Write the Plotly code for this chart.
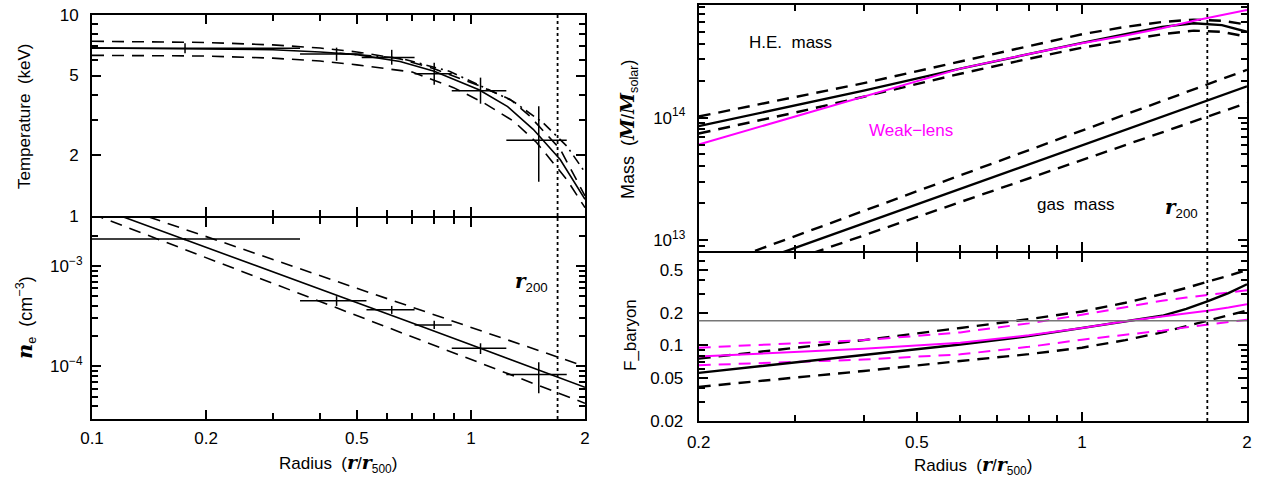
import plotly.graph_objects as go

W, H = 1265, 483

# ---------------- data ----------------
# Temperature data points (radius in r/r500)
T_r = [0.176, 0.442, 0.618, 0.80, 1.06, 1.51]
T_r_lo = [0.10, 0.354, 0.515, 0.71, 0.89, 1.24]
T_r_hi = [0.354, 0.515, 0.71, 0.89, 1.24, 1.79]
T_val = [6.84, 6.40, 6.15, 5.10, 4.20, 2.38]
T_lo = [6.46, 5.92, 5.66, 4.50, 3.62, 1.48]
T_hi = [7.24, 6.88, 6.71, 5.79, 4.88, 3.52]

# Temperature model curves
rT_best = [0.1, 0.2, 0.3, 0.4, 0.5, 0.65, 0.8, 1.05, 1.25, 1.46, 1.72, 2.0]
T_best = [6.86, 6.80, 6.72, 6.55, 6.35, 5.87, 5.25, 4.25, 3.50, 2.70, 1.91, 1.21]
rT_up = [0.1, 0.2, 0.3, 0.4, 0.5, 0.65, 0.8, 1.05, 1.27, 1.43, 1.72, 2.0]
T_up = [7.40, 7.30, 7.10, 6.85, 6.55, 6.05, 5.40, 4.45, 3.80, 3.14, 2.15, 1.26]
rT_dn = [0.1, 0.2, 0.3, 0.4, 0.5, 0.7, 0.9, 1.08, 1.3, 1.49, 1.79, 2.0]
T_dn = [6.30, 6.25, 6.10, 5.90, 5.65, 5.20, 4.35, 3.66, 2.95, 2.32, 1.52, 1.10]
rT_alt = [0.45, 0.65, 0.88, 1.12, 1.29, 1.55, 1.79, 2.0]
T_alt = [6.45, 6.10, 5.24, 4.25, 3.73, 2.91, 2.23, 1.65]

# Electron density data points
ne_r = [0.176, 0.442, 0.618, 0.80, 1.06, 1.51]
ne_r_lo = [0.10, 0.354, 0.53, 0.71, 0.89, 1.24]
ne_r_hi = [0.354, 0.53, 0.71, 0.89, 1.24, 1.79]
ne_val = [1.85e-3, 4.5e-4, 3.66e-4, 2.59e-4, 1.52e-4, 8.3e-5]
ne_lo = [1.80e-3, 4.0e-4, 3.33e-4, 2.36e-4, 1.33e-4, 5.4e-5]
ne_hi = [1.90e-3, 5.0e-4, 4.0e-4, 2.85e-4, 1.70e-4, 1.1e-4]

# Electron density model
r_ne = [0.1, 0.2, 0.3, 0.5, 0.7, 1.0, 1.5, 2.0]
ne_best = [4.0e-3, 1.54e-3, 8.7e-4, 4.3e-4, 2.7e-4, 1.64e-4, 9.3e-5, 6.2e-5]
ne_up = [4.8e-3, 1.96e-3, 1.16e-3, 6.0e-4, 3.9e-4, 2.45e-4, 1.45e-4, 1.0e-4]
ne_dn = [3.3e-3, 1.21e-3, 6.7e-4, 3.2e-4, 1.97e-4, 1.17e-4, 6.5e-5, 4.3e-5]

# Mass profiles
r_m = [0.2, 0.3, 0.4, 0.6, 0.8, 1.0, 1.2, 1.4, 1.6, 1.8, 2.0]
M_he = [8.51e13, 1.259e14, 1.66e14, 2.51e14, 3.31e14, 4.07e14, 4.79e14, 5.50e14, 5.89e14, 5.69e14, 5.01e14]
M_he_up = [1.02e14, 1.48e14, 1.91e14, 2.87e14, 3.80e14, 4.79e14, 5.50e14, 6.03e14, 6.31e14, 6.17e14, 5.75e14]
M_he_dn = [7.41e13, 1.10e14, 1.48e14, 2.28e14, 3.02e14, 3.72e14, 4.27e14, 4.79e14, 5.13e14, 5.01e14, 4.57e14]
M_wl = [6.03e13, 1.02e14, 1.48e14, 2.51e14, 3.31e14, 4.05e14, 4.68e14, 5.37e14, 6.17e14, 6.84e14, 7.55e14]

r_gas = [0.2, 0.5, 1.0, 1.5, 2.0]
M_gas = [4.52e12, 1.96e13, 5.93e13, 1.135e14, 1.80e14]
M_gas_up = [5.53e12, 2.50e13, 7.83e13, 1.528e14, 2.455e14]
M_gas_dn = [3.74e12, 1.54e13, 4.50e13, 8.41e13, 1.315e14]

# Baryon fraction
r_fb = [0.2, 0.4, 0.6, 0.8, 1.0, 1.2, 1.4, 1.55, 1.693, 1.85, 2.0]
fb_he = [0.0557, 0.082, 0.102, 0.122, 0.145, 0.165, 0.188, 0.218, 0.255, 0.305, 0.368]
fb_he_up = [0.0755, 0.112, 0.145, 0.175, 0.206, 0.248, 0.298, 0.34, 0.389, 0.44, 0.50]
fb_he_dn = [0.0414, 0.058, 0.0718, 0.083, 0.0953, 0.112, 0.132, 0.15, 0.169, 0.19, 0.21]
fb_wl = [0.0792, 0.093, 0.106, 0.124, 0.145, 0.167, 0.185, 0.197, 0.209, 0.224, 0.241]
fb_wl_up = [0.0953, 0.112, 0.132, 0.16, 0.192, 0.225, 0.259, 0.277, 0.294, 0.31, 0.324]
fb_wl_dn = [0.0656, 0.074, 0.0827, 0.097, 0.113, 0.125, 0.137, 0.147, 0.156, 0.165, 0.173]

f_cosmic = 0.169
r200 = 1.693

# tick labels
xL_ticks = [0.1, 0.2, 0.5, 1, 2]
xL_text = ["0.1", "0.2", "0.5", "1", "2"]
xR_ticks = [0.2, 0.5, 1, 2]
xR_text = ["0.2", "0.5", "1", "2"]
T_ticks = [1, 2, 5, 10]
T_text = ["1", "2", "5", "10"]
ne_ticks = [1e-4, 1e-3]
ne_text = ["10<sup>\u22124</sup>", "10<sup>\u22123</sup>"]
M_ticks = [1e13, 1e14]
M_text = ["10<sup>13</sup>", "10<sup>14</sup>"]
fb_ticks = [0.02, 0.05, 0.1, 0.2, 0.5]
fb_text = ["0.02", "0.05", "0.1", "0.2", "0.5"]

# ---------------- figure ----------------
BLACK = "black"
MAG = "#ff00ff"
DASH = "12px,8px"
DASHDOT = "10px,5px,2px,5px"
FONT = "Liberation Sans"
ITAL = "font-family:'DejaVu Serif';font-style:italic;font-weight:bold"

fig = go.Figure()


def line(x, y, xa, ya, color=BLACK, dash="solid", width=1.6):
    fig.add_trace(go.Scatter(x=x, y=y, xaxis=xa, yaxis=ya, mode="lines",
                             line=dict(color=color, dash=dash, width=width),
                             showlegend=False, hoverinfo="skip"))


def points(x, xlo, xhi, y, ylo, yhi, xa, ya):
    fig.add_trace(go.Scatter(
        x=x, y=y, xaxis=xa, yaxis=ya, mode="markers",
        marker=dict(size=1, color=BLACK),
        error_x=dict(type="data", symmetric=False,
                     array=[b - a for a, b in zip(x, xhi)],
                     arrayminus=[a - b for a, b in zip(x, xlo)],
                     width=0, thickness=1.5, color=BLACK),
        error_y=dict(type="data", symmetric=False,
                     array=[b - a for a, b in zip(y, yhi)],
                     arrayminus=[a - b for a, b in zip(y, ylo)],
                     width=0, thickness=1.5, color=BLACK),
        showlegend=False, hoverinfo="skip"))


# Temperature panel
line(rT_best, T_best, "x", "y")
line(rT_up, T_up, "x", "y", dash=DASH)
line(rT_dn, T_dn, "x", "y", dash=DASH)
line(rT_alt, T_alt, "x", "y", dash=DASHDOT)
points(T_r, T_r_lo, T_r_hi, T_val, T_lo, T_hi, "x", "y")

# Density panel
line(r_ne, ne_best, "x2", "y2")
line(r_ne, ne_up, "x2", "y2", dash=DASH)
line(r_ne, ne_dn, "x2", "y2", dash=DASH)
points(ne_r, ne_r_lo, ne_r_hi, ne_val, ne_lo, ne_hi, "x2", "y2")

# Mass panel
line(r_m, M_he, "x3", "y3", width=2.4)
line(r_m, M_he_up, "x3", "y3", dash=DASH, width=2.4)
line(r_m, M_he_dn, "x3", "y3", dash=DASH, width=2.4)
line(r_m, M_wl, "x3", "y3", color=MAG, width=2)
line(r_gas, M_gas, "x3", "y3", width=2.4)
line(r_gas, M_gas_up, "x3", "y3", dash=DASH, width=2.4)
line(r_gas, M_gas_dn, "x3", "y3", dash=DASH, width=2.4)

# Baryon fraction panel
line(r_fb, fb_he_up, "x4", "y4", dash=DASH, width=2.4)
line(r_fb, fb_he_dn, "x4", "y4", dash=DASH, width=2.4)
line(r_fb, fb_wl_up, "x4", "y4", color=MAG, dash=DASH, width=2)
line(r_fb, fb_wl_dn, "x4", "y4", color=MAG, dash=DASH, width=2)
line(r_fb, fb_he, "x4", "y4", width=2.4)
line(r_fb, fb_wl, "x4", "y4", color=MAG, width=2)


def px_x(p):
    return p / W


def px_y(p):
    return 1 - p / H


def axis(domain, rng, tickvals, ticktext, minor, labels, anchor, standoff=8):
    return dict(type="log", domain=domain, range=rng, anchor=anchor,
                tickvals=tickvals, ticktext=ticktext, showticklabels=labels,
                ticks="inside", ticklen=9, tickwidth=1.5, tickcolor=BLACK,
                minor=dict(tickvals=minor, ticks="inside", ticklen=6,
                           tickwidth=1.5, tickcolor=BLACK),
                showline=True, linewidth=2, linecolor=BLACK, mirror="allticks",
                showgrid=False, zeroline=False, automargin=False,
                ticklabelstandoff=standoff,
                tickfont=dict(family=FONT, size=17, color=BLACK))


xL_minor = [0.3, 0.4, 0.6, 0.7, 0.8, 0.9]
xR_minor = [0.3, 0.4, 0.6, 0.7, 0.8, 0.9]
T_minor = [3, 4, 6, 7, 8, 9]
ne_minor = [4e-5, 5e-5, 6e-5, 7e-5, 8e-5, 9e-5, 2e-4, 3e-4, 4e-4, 5e-4,
            6e-4, 7e-4, 8e-4, 9e-4, 2e-3]
M_minor = [9e12, 2e13, 3e13, 4e13, 5e13, 6e13, 7e13, 8e13, 9e13,
           2e14, 3e14, 4e14, 5e14, 6e14, 7e14, 8e14]
fb_minor = [0.03, 0.04, 0.06, 0.07, 0.08, 0.09, 0.3, 0.4, 0.6]

dxL = [px_x(92), px_x(585)]
dxR = [px_x(698.7), px_x(1247)]

fig.update_layout(
    width=W, height=H,
    margin=dict(l=0, r=0, t=0, b=0),
    paper_bgcolor="white", plot_bgcolor="white",
    showlegend=False,
    font=dict(family=FONT, size=16, color=BLACK),
    xaxis=axis(dxL, [-1, 0.30103], xL_ticks, xL_text, xL_minor, False, "y"),
    yaxis=axis([px_y(216), px_y(15)], [0, 1], T_ticks, T_text, T_minor, True, "x"),
    xaxis2=axis(dxL, [-1, 0.30103], xL_ticks, xL_text, xL_minor, True, "y2", 3),
    yaxis2=axis([px_y(419), px_y(218)], [-4.523, -2.523], ne_ticks, ne_text, ne_minor, True, "x2", 4),
    xaxis3=axis(dxR, [-0.69897, 0.30103], xR_ticks, xR_text, xR_minor, False, "y3"),
    yaxis3=axis([px_y(251), px_y(5)], [12.911, 14.919], M_ticks, M_text, M_minor, True, "x3"),
    xaxis4=axis(dxR, [-0.69897, 0.30103], xR_ticks, xR_text, xR_minor, True, "y4", 5),
    yaxis4=axis([px_y(421), px_y(253)], [-1.69897, -0.145], fb_ticks, fb_text, fb_minor, True, "x4", 10),
)

# r200 dotted lines and cosmic baryon fraction line
for xa, ya in [("x", "y"), ("x2", "y2"), ("x3", "y3"), ("x4", "y4")]:
    fig.add_shape(type="line", xref=xa, yref=ya + " domain", x0=r200, x1=r200,
                  y0=0, y1=1, line=dict(color=BLACK, width=1.8, dash="dot"))
fig.add_shape(type="line", xref="x4 domain", yref="y4", x0=0, x1=1,
              y0=f_cosmic, y1=f_cosmic, line=dict(color="#777777", width=1.5))


def text(t, x, y, size=16, color=BLACK, angle=0, xanchor="center"):
    fig.add_annotation(text=t, x=px_x(x), y=px_y(y), xref="paper", yref="paper",
                       showarrow=False, textangle=angle, xanchor=xanchor,
                       yanchor="middle",
                       font=dict(family=FONT, size=size, color=color))


def ir(s, size):
    return '<span style="%s;font-size:%dpx">%s</span>' % (ITAL, size, s)


radius_title = "Radius  (" + ir("r", 19) + "/" + ir("r", 19) + "<sub>500</sub>)"

# axis titles
text("Temperature  (keV)", 25, 116, size=17, angle=-90)
text(ir("n", 21) + "<sub>e</sub>  (cm<sup>\u22123</sup>)", 25, 318, size=18, angle=-90)
text(radius_title, 338, 463, size=17)
text("Mass  (" + ir("M", 19) + "/" + ir("M", 19) + "<sub>solar</sub>)", 628, 130, size=18, angle=-90)
text("F_baryon", 630, 335, size=17, angle=-90)
text(radius_title, 973, 465, size=17)

# in-plot labels
text("H.E.  mass", 747, 43, size=17, xanchor="left")
text("Weak\u2212lens", 867, 130, size=17, color=MAG, xanchor="left")
text("gas  mass", 1035, 205, size=17, xanchor="left")
text(ir("r", 20) + "<sub>200</sub>", 1163, 208, size=19, xanchor="left")
text(ir("r", 20) + "<sub>200</sub>", 513, 282, size=19, xanchor="left")

fig.write_html("out.html", config={"displayModeBar": False},
               post_script="document.body.style.margin='0';")
